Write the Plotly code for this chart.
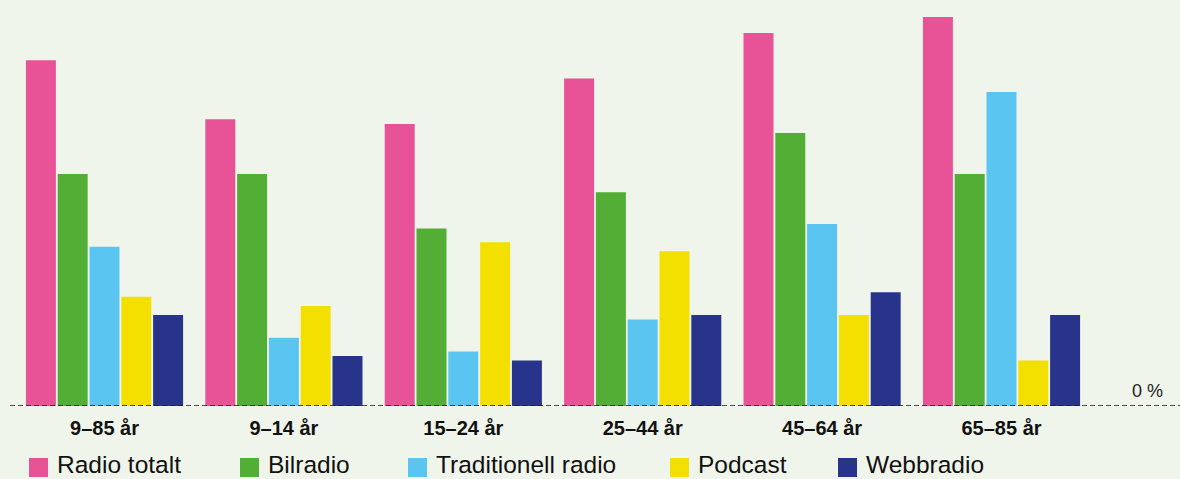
import plotly.graph_objects as go

# ---- data ----
categories = ["9–85 år", "9–14 år", "15–24 år", "25–44 år", "45–64 år", "65–85 år"]
series_names = ["Radio totalt", "Bilradio", "Traditionell radio", "Podcast", "Webbradio"]
radio_totalt = [76, 63, 62, 72, 82, 85.5]
bilradio = [51, 51, 39, 47, 60, 51]
traditionell_radio = [35, 15, 12, 19, 40, 69]
podcast = [24, 22, 36, 34, 20, 10]
webbradio = [20, 11, 10, 20, 25, 20]
zero_label = "0 %"

series_values = [radio_totalt, bilradio, traditionell_radio, podcast, webbradio]
colors = ["#E85296", "#52AE34", "#5BC5F2", "#F4E000", "#28338B"]

# ---- layout constants ----
W, H = 1180, 479
BOTTOM_PX = 406           # pixel row of the 0 baseline
PX_PER_UNIT = 4.55
FONT = "Liberation Sans, Arial, Helvetica, sans-serif"
BG = "#F0F5EB"

def px_x(p):
    return p / W

def px_y(p):
    return (BOTTOM_PX - p) / BOTTOM_PX

fig = go.Figure()
for name, vals, col in zip(series_names, series_values, colors):
    fig.add_trace(go.Bar(
        x=list(range(len(categories))), y=vals, name=name,
        marker=dict(color=col, line=dict(width=0)),
        showlegend=False, hoverinfo="x+y+name",
    ))

# baseline (dashed)
fig.add_shape(type="line", xref="paper", yref="y", x0=px_x(10), x1=1, y0=0, y1=0,
              line=dict(color="#1A1A1A", width=1.5, dash="5px,3px"), layer="above")

annotations = [dict(text=zero_label, xref="paper", yref="paper", x=px_x(1165), y=px_y(391),
                    xanchor="right", yanchor="middle", showarrow=False,
                    font=dict(family=FONT, size=18, color="#222222"))]

# legend drawn as shapes + text
legend_sq_left = [29, 240, 408, 670, 838]
SQ = 19
for i, (name, col) in enumerate(zip(series_names, colors)):
    x0 = legend_sq_left[i]
    fig.add_shape(type="rect", xref="paper", yref="paper",
                  x0=px_x(x0), x1=px_x(x0 + SQ), y0=px_y(458), y1=px_y(477),
                  fillcolor=col, line=dict(width=0))
    annotations.append(dict(text=name, xref="paper", yref="paper", x=px_x(x0 + 27), y=px_y(479),
                            xanchor="left", yanchor="bottom", showarrow=False,
                            borderpad=0,
                            font=dict(family=FONT, size=24.5, color="#111111")))

x_center0 = 104.5
spacing = 179.4
xr0 = -x_center0 / spacing
xr1 = xr0 + W / spacing

fig.update_layout(
    width=W, height=H,
    margin=dict(l=0, r=0, t=0, b=H - BOTTOM_PX, pad=0),
    paper_bgcolor=BG, plot_bgcolor=BG,
    barmode="group", bargap=0.1137, bargroupgap=0.057,
    showlegend=False,
    annotations=annotations,
    xaxis=dict(range=[xr0, xr1], tickvals=list(range(len(categories))), ticktext=categories,
               showgrid=False, zeroline=False, showline=False, ticks="",
               tickfont=dict(family=FONT, size=20, color="#111111", weight="bold"),
               ticklabelstandoff=8, fixedrange=True),
    yaxis=dict(range=[0, BOTTOM_PX / PX_PER_UNIT], showgrid=False, zeroline=False,
               showline=False, showticklabels=False, ticks="", fixedrange=True),
)

fig.write_html("out.html")
